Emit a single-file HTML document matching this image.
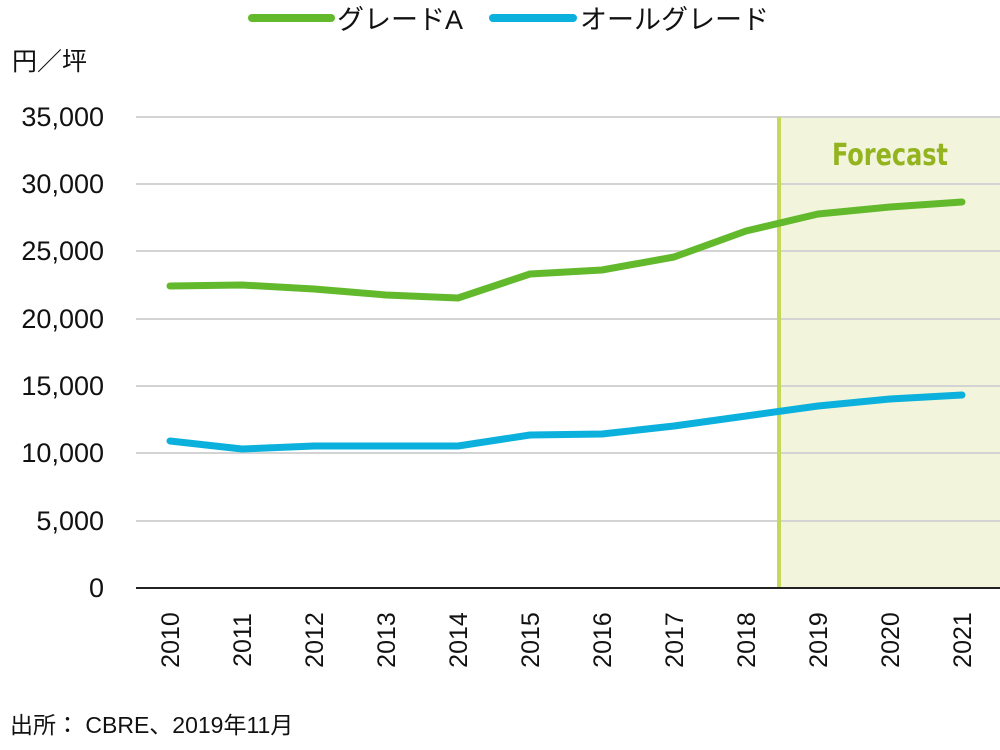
<!DOCTYPE html>
<html><head><meta charset="utf-8"><style>
body{margin:0;background:#fff;}
text{font-family:"Liberation Sans","Noto Sans CJK JP",sans-serif;fill:#111;}
</style></head><body>
<svg width="1000" height="745" viewBox="0 0 1000 745" xmlns="http://www.w3.org/2000/svg">
<rect x="779" y="117" width="221" height="471" fill="#f2f5dc"/>
<g stroke="#d3d3d3" stroke-width="2">
<line x1="136" x2="1000" y1="117" y2="117"/>
<line x1="136" x2="1000" y1="184" y2="184"/>
<line x1="136" x2="1000" y1="251" y2="251"/>
<line x1="136" x2="1000" y1="319" y2="319"/>
<line x1="136" x2="1000" y1="386" y2="386"/>
<line x1="136" x2="1000" y1="453" y2="453"/>
<line x1="136" x2="1000" y1="521" y2="521"/>
</g>
<line x1="779" x2="779" y1="117" y2="588" stroke="#c5d85a" stroke-width="4"/>
<line x1="136" x2="1000" y1="588" y2="588" stroke="#222" stroke-width="2"/>
<text x="890" y="165" text-anchor="middle" font-size="30" font-weight="bold" style="fill:#93b31f;font-family:'DejaVu Sans Condensed','Liberation Sans Narrow',sans-serif" textLength="116" lengthAdjust="spacingAndGlyphs">Forecast</text>
<g font-size="27" text-anchor="end">
<text x="104" y="126">35,000</text>
<text x="104" y="193">30,000</text>
<text x="104" y="260">25,000</text>
<text x="104" y="328">20,000</text>
<text x="104" y="395">15,000</text>
<text x="104" y="462">10,000</text>
<text x="104" y="530">5,000</text>
<text x="104" y="597">0</text>
</g>
<text x="12" y="70" font-size="25">円／坪</text>
<polyline fill="none" stroke="#63b92c" stroke-width="7" stroke-linejoin="round" stroke-linecap="round" points="170,286 242,285 314,289 386,295 458,298 530,274 602,270 674,257 746,231 818,214 890,207 962,202"/>
<polyline fill="none" stroke="#0bb1dc" stroke-width="7" stroke-linejoin="round" stroke-linecap="round" points="170,441 242,449 314,446 386,446 458,446 530,435 602,434 674,426 746,416 818,406 890,399 962,395"/>
<g font-size="25" text-anchor="middle">
<text transform="translate(179,640) rotate(-90)">2010</text>
<text transform="translate(251,640) rotate(-90)">2011</text>
<text transform="translate(323,640) rotate(-90)">2012</text>
<text transform="translate(395,640) rotate(-90)">2013</text>
<text transform="translate(467,640) rotate(-90)">2014</text>
<text transform="translate(539,640) rotate(-90)">2015</text>
<text transform="translate(611,640) rotate(-90)">2016</text>
<text transform="translate(683,640) rotate(-90)">2017</text>
<text transform="translate(755,640) rotate(-90)">2018</text>
<text transform="translate(827,640) rotate(-90)">2019</text>
<text transform="translate(899,640) rotate(-90)">2020</text>
<text transform="translate(971,640) rotate(-90)">2021</text>
</g>
<line x1="252" x2="331" y1="18" y2="18" stroke="#63b92c" stroke-width="8" stroke-linecap="round"/>
<text x="337" y="29" font-size="27">グレードA</text>
<line x1="493" x2="573" y1="18" y2="18" stroke="#0bb1dc" stroke-width="8" stroke-linecap="round"/>
<text x="580" y="29" font-size="27">オールグレード</text>
<text x="10" y="733" font-size="23">出所： CBRE、2019年11月</text>
</svg>
</body></html>
